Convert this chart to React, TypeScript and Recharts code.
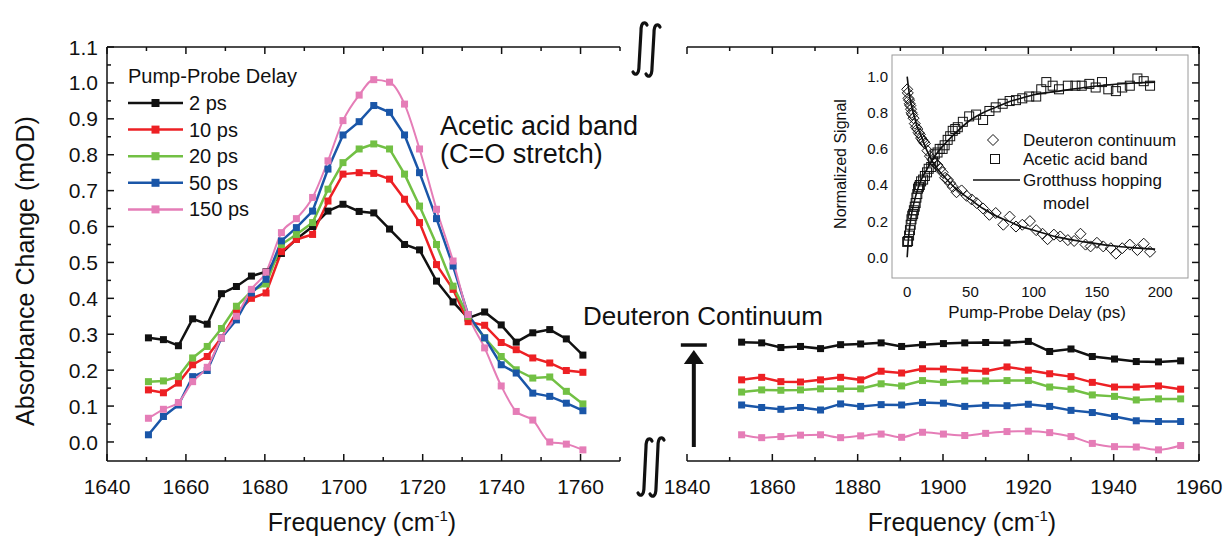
import {
  ComposedChart,
  Line,
  LineChart,
  ReferenceLine,
  Scatter,
  XAxis,
  YAxis,
} from 'recharts';

const FONT = '"Liberation Sans", Arial, Helvetica, sans-serif';
const INK = '#111111';

// ---- main panels: absorbance change vs frequency ----
const FREQ_LEFT = [
  1650.5, 1654.3, 1658.1, 1661.7, 1665.4, 1669.0, 1672.8, 1676.6, 1680.3, 1684.2,
  1688.0, 1692.1, 1696.0, 1699.8, 1703.9, 1707.6, 1711.6, 1715.4, 1719.2, 1723.5,
  1727.7, 1731.5, 1735.7, 1739.9, 1743.7, 1747.9, 1752.2, 1756.4, 1760.6,
];
const PS2_LEFT = [
  0.29, 0.285, 0.268, 0.343, 0.328, 0.413, 0.433, 0.462, 0.474, 0.525,
  0.565, 0.6, 0.643, 0.662, 0.642, 0.638, 0.593, 0.55, 0.535, 0.448,
  0.39, 0.345, 0.362, 0.326, 0.278, 0.304, 0.313, 0.287, 0.242,
];
const PS10_LEFT = [
  0.145, 0.137, 0.164, 0.215, 0.238, 0.29, 0.36, 0.4, 0.415, 0.53,
  0.564, 0.578, 0.671, 0.746, 0.75, 0.748, 0.732, 0.676, 0.611, 0.494,
  0.425, 0.335, 0.325, 0.277, 0.257, 0.234, 0.22, 0.199, 0.194,
];
const PS20_LEFT = [
  0.168, 0.17, 0.182, 0.234, 0.266, 0.316, 0.378, 0.42, 0.44, 0.55,
  0.578, 0.611, 0.704, 0.778, 0.816, 0.83, 0.816, 0.746, 0.657, 0.55,
  0.434, 0.35, 0.29, 0.238, 0.201, 0.178, 0.181, 0.141, 0.106,
];
const PS50_LEFT = [
  0.02, 0.071, 0.103, 0.182, 0.199, 0.29, 0.34, 0.415, 0.453, 0.56,
  0.597, 0.643, 0.76, 0.855, 0.892, 0.937, 0.918, 0.855, 0.75, 0.622,
  0.49, 0.355, 0.29, 0.215, 0.192, 0.136, 0.127, 0.108, 0.087,
];
const PS150_LEFT = [
  0.066, 0.091, 0.11, 0.168, 0.208, 0.29, 0.35, 0.425, 0.473, 0.583,
  0.622, 0.681, 0.783, 0.895, 0.966, 1.009, 1.002, 0.941, 0.816, 0.648,
  0.504, 0.355, 0.262, 0.156, 0.085, 0.061, 0.0, -0.006, -0.022,
];

const FREQ_RIGHT = [
  1852.8, 1857.5, 1862.0, 1866.6, 1871.3, 1876.0, 1880.7, 1885.5, 1890.3, 1895.2, 1900.1,
  1905.1, 1910.0, 1915.0, 1920.0, 1925.0, 1930.0, 1935.0, 1940.2, 1945.3, 1950.5, 1955.7,
];
const PS2_RIGHT = [
  0.278, 0.276, 0.263, 0.266, 0.26, 0.271, 0.273, 0.276, 0.266, 0.271, 0.274,
  0.276, 0.277, 0.276, 0.28, 0.252, 0.259, 0.238, 0.231, 0.224, 0.223, 0.226,
];
const PS10_RIGHT = [
  0.173, 0.18, 0.168, 0.167, 0.173, 0.18, 0.173, 0.197, 0.192, 0.204, 0.203,
  0.2, 0.197, 0.209, 0.2, 0.19, 0.182, 0.166, 0.153, 0.153, 0.156, 0.147,
];
const PS20_RIGHT = [
  0.139, 0.145, 0.144, 0.145, 0.148, 0.148, 0.148, 0.162, 0.156, 0.171, 0.166,
  0.17, 0.17, 0.171, 0.171, 0.153, 0.147, 0.131, 0.127, 0.117, 0.12, 0.12,
];
const PS50_RIGHT = [
  0.103, 0.096, 0.091, 0.096, 0.089, 0.106, 0.099, 0.104, 0.103, 0.11, 0.108,
  0.099, 0.102, 0.101, 0.105, 0.099, 0.088, 0.082, 0.071, 0.059, 0.057, 0.057,
];
const PS150_RIGHT = [
  0.02, 0.012, 0.015, 0.019, 0.02, 0.012, 0.017, 0.022, 0.013, 0.027, 0.022,
  0.018, 0.024, 0.029, 0.03, 0.026, 0.015, -0.004, -0.013, -0.014, -0.022, -0.01,
];

const X_TICKS_LEFT = [1640, 1650, 1660, 1670, 1680, 1690, 1700, 1710, 1720, 1730, 1740, 1750, 1760, 1770];
const X_TICKS_RIGHT = [1840, 1850, 1860, 1870, 1880, 1890, 1900, 1910, 1920, 1930, 1940, 1950, 1960];
const Y_TICKS = [
  0, 0.05, 0.1, 0.15, 0.2, 0.25, 0.3, 0.35, 0.4, 0.45, 0.5, 0.55,
  0.6, 0.65, 0.7, 0.75, 0.8, 0.85, 0.9, 0.95, 1.0, 1.05, 1.1,
];
const Y_DOMAIN: [number, number] = [-0.053, 1.1];

const SERIES = [
  { key: 'ps2', label: '2 ps', color: '#111111', left: PS2_LEFT, right: PS2_RIGHT },
  { key: 'ps10', label: '10 ps', color: '#ED2024', left: PS10_LEFT, right: PS10_RIGHT },
  { key: 'ps20', label: '20 ps', color: '#72C044', left: PS20_LEFT, right: PS20_RIGHT },
  { key: 'ps50', label: '50 ps', color: '#1A56A8', left: PS50_LEFT, right: PS50_RIGHT },
  { key: 'ps150', label: '150 ps', color: '#E57DB7', left: PS150_LEFT, right: PS150_RIGHT },
];

// ---- inset: normalized signal vs pump-probe delay ----
const DEUT_T = [
  0, 0.5, 1, 1.5, 2, 2.5, 3, 3.5, 4, 5, 6, 7, 8, 9, 10, 11, 12, 13, 14, 16,
  18, 20, 22, 24, 26, 28, 30, 32, 34, 36, 39, 43, 47, 51, 55, 60, 65, 70, 76, 81,
  86, 91, 97, 102, 107, 111, 116, 121, 127, 132, 137, 141, 145, 150, 155, 161, 165, 170, 176, 182,
  187, 192,
];
const DEUT_S = [
  0.93, 0.91, 0.88, 0.87, 0.85, 0.84, 0.82, 0.8, 0.79, 0.77, 0.74, 0.72, 0.71, 0.69, 0.68, 0.66, 0.65, 0.64, 0.63, 0.59,
  0.56, 0.54, 0.52, 0.51, 0.49, 0.47, 0.44, 0.43, 0.41, 0.39, 0.36, 0.37, 0.34, 0.32, 0.3, 0.27, 0.235, 0.245, 0.18, 0.225,
  0.17, 0.18, 0.2, 0.15, 0.13, 0.1, 0.125, 0.115, 0.095, 0.09, 0.13, 0.07, 0.06, 0.08, 0.06, 0.05, 0.02, 0.05, 0.07, 0.04,
  0.075, 0.03,
];
const ACID_T = [
  0, 0.7, 1.5, 2.2, 2.8, 3.4, 4, 4.7, 5.3, 6, 6.7, 7.3, 8, 8.6, 9.3, 10, 11, 12.6, 14, 15.7,
  17, 19, 20.5, 21.8, 24, 25.7, 28, 29.6, 32, 34, 36, 38, 40, 44, 49, 54.5, 60, 65, 70, 75.5,
  81, 86, 91, 96.5, 102, 106, 110, 115, 120, 127, 133, 138, 144, 149, 154, 159, 165, 170, 176, 182,
  187, 192,
];
const ACID_S = [
  0.085, 0.09, 0.12, 0.15, 0.18, 0.21, 0.23, 0.24, 0.26, 0.28, 0.3, 0.33, 0.35, 0.38, 0.39, 0.4, 0.42, 0.43, 0.45, 0.47,
  0.49, 0.5, 0.53, 0.57, 0.58, 0.6, 0.6, 0.62, 0.65, 0.67, 0.7, 0.71, 0.72, 0.75, 0.78, 0.79, 0.76, 0.81, 0.83, 0.85,
  0.865, 0.87, 0.88, 0.89, 0.89, 0.93, 0.97, 0.95, 0.93, 0.95, 0.95, 0.95, 0.96, 0.94, 0.97, 0.93, 0.92, 0.94, 0.95, 0.99,
  0.975, 0.95,
];
const MODEL_T = [0, 1, 2, 4, 6, 8, 10, 15, 20, 25, 30, 40, 50, 60, 70, 80, 90, 100, 120, 140, 160, 180, 196];
const MODEL_DECAY = [
  1.0, 0.94, 0.89, 0.82, 0.77, 0.72, 0.69, 0.6, 0.53, 0.48, 0.44, 0.37,
  0.32, 0.27, 0.23, 0.2, 0.17, 0.15, 0.11, 0.085, 0.065, 0.052, 0.045,
];
const MODEL_RISE = [
  0.0, 0.1, 0.17, 0.26, 0.32, 0.37, 0.41, 0.48, 0.54, 0.59, 0.63, 0.7,
  0.76, 0.8, 0.83, 0.86, 0.88, 0.9, 0.92, 0.94, 0.955, 0.965, 0.97,
];
const INSET_X_TICKS = [0, 50, 100, 150, 200];
const INSET_Y_TICKS = [0, 0.2, 0.4, 0.6, 0.8, 1.0];

const leftRows = FREQ_LEFT.map((f, i) => {
  const row: Record<string, number> = { f };
  SERIES.forEach((s) => (row[s.key] = s.left[i]));
  return row;
});
const rightRows = FREQ_RIGHT.map((f, i) => {
  const row: Record<string, number> = { f };
  SERIES.forEach((s) => (row[s.key] = s.right[i]));
  return row;
});
const pairs = (xs: number[], ys: number[]) => xs.map((x, i) => ({ x, y: ys[i] }));
const deutPts = pairs(DEUT_T, DEUT_S);
const acidPts = pairs(ACID_T, ACID_S);
const decayLine = pairs(MODEL_T, MODEL_DECAY);
const riseLine = pairs(MODEL_T, MODEL_RISE);

// ---- ticks (inward, major + minor) ----
type TickProps = { x?: number; y?: number; payload?: { value: number } };

const isMajorY = (v: number) => Math.abs(v * 10 - Math.round(v * 10)) < 1e-6;

function BottomTick({ x = 0, y = 0, payload }: TickProps) {
  const v = payload?.value ?? 0;
  const major = v % 20 === 0;
  return (
    <g>
      <line x1={x} y1={y} x2={x} y2={y - (major ? 7 : 4)} stroke={INK} strokeWidth={1.5} />
      {major && (
        <text x={x} y={y + 33} textAnchor="middle" fontSize={21} fontFamily={FONT} fill={INK}>
          {v}
        </text>
      )}
    </g>
  );
}

function TopTick({ x = 0, y = 0, payload }: TickProps) {
  const v = payload?.value ?? 0;
  const major = v % 20 === 0;
  return <line x1={x} y1={y} x2={x} y2={y + (major ? 7 : 4)} stroke={INK} strokeWidth={1.5} />;
}

function LeftTick({ x = 0, y = 0, payload }: TickProps) {
  const v = payload?.value ?? 0;
  const major = isMajorY(v);
  return (
    <g>
      <line x1={x} y1={y} x2={x + (major ? 7 : 4)} y2={y} stroke={INK} strokeWidth={1.5} />
      {major && (
        <text x={x - 9} y={y} dy="0.36em" textAnchor="end" fontSize={21} fontFamily={FONT} fill={INK}>
          {v.toFixed(1)}
        </text>
      )}
    </g>
  );
}

function RightTick({ x = 0, y = 0, payload }: TickProps) {
  const v = payload?.value ?? 0;
  const major = isMajorY(v);
  return <line x1={x} y1={y} x2={x - (major ? 7 : 5)} y2={y} stroke={INK} strokeWidth={1.5} />;
}

function InsetXTick({ x = 0, y = 0, payload }: TickProps) {
  return (
    <text x={x} y={y + 19} textAnchor="middle" fontSize={15} fontFamily={FONT} fill={INK}>
      {payload?.value}
    </text>
  );
}

function InsetYTick({ x = 0, y = 0, payload }: TickProps) {
  return (
    <text x={x - 4} y={y} dy="0.36em" textAnchor="end" fontSize={15} fontFamily={FONT} fill={INK}>
      {(payload?.value ?? 0).toFixed(1)}
    </text>
  );
}

const squareDot = (color: string, s = 7) => (p: any) => {
  if (p.cx == null || p.cy == null) return <g key={p.index} />;
  return <rect key={p.index} x={p.cx - s / 2} y={p.cy - s / 2} width={s} height={s} fill={color} />;
};

const diamondShape = (p: any) => {
  const r = 5.5;
  return (
    <path
      d={`M${p.cx},${p.cy - r}L${p.cx + r},${p.cy}L${p.cx},${p.cy + r}L${p.cx - r},${p.cy}Z`}
      fill="none"
      stroke={INK}
      strokeWidth={1}
    />
  );
};

const squareShape = (p: any) => (
  <rect x={p.cx - 4.5} y={p.cy - 4.5} width={9} height={9} fill="none" stroke={INK} strokeWidth={1} />
);

// growth arrow next to the continuum traces
function ArrowShape(p: any) {
  const x = p.x1;
  const top = Math.min(p.y1, p.y2);
  const bottom = Math.max(p.y1, p.y2);
  return (
    <g>
      <line x1={x - 13} y1={top} x2={x + 13} y2={top} stroke={INK} strokeWidth={3.5} />
      <polygon points={`${x},${top + 5} ${x - 10},${top + 19} ${x + 10},${top + 19}`} fill={INK} />
      <line x1={x} y1={top + 18} x2={x} y2={bottom} stroke={INK} strokeWidth={4} />
    </g>
  );
}

function integral(cx: number, top: number, bot: number) {
  return `M${cx + 7},${top + 3} C${cx + 5},${top - 1} ${cx + 1},${top} ${cx + 1},${top + 9} L${cx - 1},${bot - 9} C${cx - 1},${bot} ${cx - 5},${bot + 1} ${cx - 7},${bot - 3}`;
}

function renderLines() {
  return SERIES.map((s) => (
    <Line
      key={s.key}
      type={s.key === 'ps150' ? 'monotone' : 'linear'}
      dataKey={s.key}
      stroke={s.color}
      strokeWidth={s.key === 'ps150' ? 2 : 2.5}
      dot={squareDot(s.color)}
      activeDot={false}
      isAnimationActive={false}
    />
  ));
}

const axisLine = { stroke: INK, strokeWidth: 1.5 };

export default function App() {
  return (
    <div style={{ position: 'absolute', left: 0, top: 0, width: 1226, height: 542, background: '#fff' }}>
      {/* left panel: C=O band */}
      <div style={{ position: 'absolute', left: 0, top: 0 }}>
        <LineChart width={640} height={542} data={leftRows} margin={{ top: 40, right: 20, bottom: 41, left: 0 }}>
          <XAxis
            dataKey="f"
            type="number"
            domain={[1640, 1770]}
            allowDataOverflow
            ticks={X_TICKS_LEFT}
            interval={0}
            height={40}
            tickSize={0}
            tickMargin={0}
            tickLine={false}
            axisLine={axisLine}
            tick={BottomTick}
          />
          <XAxis
            xAxisId="top"
            orientation="top"
            dataKey="f"
            type="number"
            domain={[1640, 1770]}
            allowDataOverflow
            ticks={X_TICKS_LEFT}
            interval={0}
            height={7}
            tickSize={0}
            tickMargin={0}
            tickLine={false}
            axisLine={axisLine}
            tick={TopTick}
          />
          <YAxis
            type="number"
            domain={Y_DOMAIN}
            allowDataOverflow
            ticks={Y_TICKS}
            interval={0}
            width={107}
            tickSize={0}
            tickMargin={0}
            tickLine={false}
            axisLine={axisLine}
            tick={LeftTick}
          />
          {renderLines()}
        </LineChart>
      </div>

      {/* right panel: deuteron continuum */}
      <div style={{ position: 'absolute', left: 660, top: 0 }}>
        <LineChart width={566} height={542} data={rightRows} margin={{ top: 40, right: 7, bottom: 41, left: 27 }}>
          <XAxis
            dataKey="f"
            type="number"
            domain={[1840, 1960]}
            allowDataOverflow
            ticks={X_TICKS_RIGHT}
            interval={0}
            height={40}
            tickSize={0}
            tickMargin={0}
            tickLine={false}
            axisLine={axisLine}
            tick={BottomTick}
          />
          <XAxis
            xAxisId="top"
            orientation="top"
            dataKey="f"
            type="number"
            domain={[1840, 1960]}
            allowDataOverflow
            ticks={X_TICKS_RIGHT}
            interval={0}
            height={7}
            tickSize={0}
            tickMargin={0}
            tickLine={false}
            axisLine={axisLine}
            tick={TopTick}
          />
          <YAxis
            orientation="right"
            type="number"
            domain={Y_DOMAIN}
            allowDataOverflow
            ticks={Y_TICKS}
            interval={0}
            width={20}
            tickSize={0}
            tickMargin={0}
            tickLine={false}
            axisLine={axisLine}
            tick={RightTick}
          />
          <ReferenceLine
            segment={[
              { x: 1841.6, y: -0.014 },
              { x: 1841.6, y: 0.27 },
            ]}
            ifOverflow="visible"
            shape={ArrowShape}
          />
          {renderLines()}
        </LineChart>
      </div>

      {/* inset */}
      <div style={{ position: 'absolute', left: 820, top: 40 }}>
        <ComposedChart width={380} height={290} margin={{ top: 15, right: 12, bottom: 22, left: 32 }}>
          <XAxis
            dataKey="x"
            type="number"
            domain={[-12, 222]}
            allowDataOverflow
            ticks={INSET_X_TICKS}
            interval={0}
            height={30}
            tickSize={0}
            tickMargin={0}
            tickLine={false}
            axisLine={false}
            tick={InsetXTick}
          />
          <YAxis
            type="number"
            domain={[-0.115, 1.12]}
            allowDataOverflow
            ticks={INSET_Y_TICKS}
            interval={0}
            width={40}
            tickSize={0}
            tickMargin={0}
            tickLine={false}
            axisLine={false}
            tick={InsetYTick}
          />
          <Scatter data={deutPts} dataKey="y" shape={diamondShape} isAnimationActive={false} />
          <Scatter data={acidPts} dataKey="y" shape={squareShape} isAnimationActive={false} />
          <Line data={decayLine} dataKey="y" type="monotone" stroke={INK} strokeWidth={1.6} dot={false} activeDot={false} isAnimationActive={false} />
          <Line data={riseLine} dataKey="y" type="monotone" stroke={INK} strokeWidth={1.6} dot={false} activeDot={false} isAnimationActive={false} />
        </ComposedChart>
      </div>

      {/* titles, legends, annotations */}
      <svg
        width={1226}
        height={542}
        style={{ position: 'absolute', left: 0, top: 0, pointerEvents: 'none' }}
        fontFamily={FONT}
        fill={INK}
      >
        <text transform="translate(25,271) rotate(-90)" textAnchor="middle" dy="0.36em" fontSize={25}>
          Absorbance Change (mOD)
        </text>
        <text x={362} y={531} textAnchor="middle" fontSize={25}>
          Frequency (cm<tspan dy={-10} fontSize={15}>-1</tspan>
          <tspan dy={10}>)</tspan>
        </text>
        <text x={962} y={531} textAnchor="middle" fontSize={25}>
          Frequency (cm<tspan dy={-10} fontSize={15}>-1</tspan>
          <tspan dy={10}>)</tspan>
        </text>

        <text x={128} y={83} fontSize={20}>Pump-Probe Delay</text>
        {SERIES.map((s, i) => {
          const cy = 103 + i * 26.6;
          return (
            <g key={s.key}>
              <line x1={128} y1={cy} x2={183} y2={cy} stroke={s.color} strokeWidth={2.5} />
              <rect x={151.5} y={cy - 4} width={8} height={8} fill={s.color} />
              <text x={189} y={cy + 7} fontSize={20}>
                {s.label}
              </text>
            </g>
          );
        })}

        <text x={440} y={135} fontSize={27}>Acetic acid band</text>
        <text x={440} y={163} fontSize={27}>(C=O stretch)</text>
        <text x={583} y={325} fontSize={26}>Deuteron Continuum</text>

        {/* axis breaks */}
        <g fill="none" stroke={INK} strokeWidth={3.2} strokeLinecap="round">
          <path d={integral(640, 22, 75)} />
          <path d={integral(653, 24, 77)} />
          <path d={integral(645, 438, 496)} />
          <path d={integral(657, 437, 497)} />
        </g>

        {/* inset frame, titles and legend */}
        <rect x={892} y={55} width={296} height={223} fill="none" stroke="#9a9a9a" strokeWidth={1} />
        <text transform="translate(840,164) rotate(-90)" textAnchor="middle" dy="0.36em" fontSize={16}>
          Normalized Signal
        </text>
        <text x={1037} y={318} textAnchor="middle" fontSize={17}>Pump-Probe Delay (ps)</text>
        <path d="M993,134.5L998.5,140L993,145.5L987.5,140Z" fill="none" stroke={INK} strokeWidth={1} />
        <text x={1023} y={146} fontSize={17}>Deuteron continuum</text>
        <rect x={990.5} y={154.5} width={9} height={9} fill="none" stroke={INK} strokeWidth={1} />
        <text x={1023} y={165} fontSize={17}>Acetic acid band</text>
        <line x1={973} y1={180} x2={1020} y2={180} stroke={INK} strokeWidth={1.6} />
        <text x={1023} y={186} fontSize={17}>Grotthuss hopping</text>
        <text x={1043} y={209} fontSize={17}>model</text>
      </svg>
    </div>
  );
}
